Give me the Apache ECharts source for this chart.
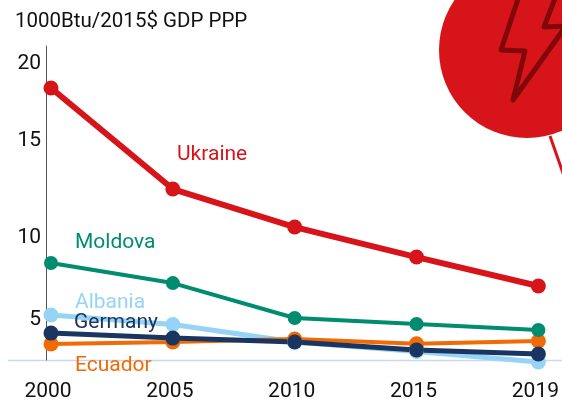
<!DOCTYPE html>
<html><head><meta charset="utf-8">
<style>html,body{margin:0;padding:0;background:#fff}#c{width:562px;height:404px}</style>
<script src="https://cdn.jsdelivr.net/npm/echarts@6/dist/echarts.min.js"></script>
</head><body><div id="c"></div>
<script>
const years = ['2000','2005','2010','2015','2019'];
const ukraine = [18.43,12.53,10.31,8.56,6.87];
const moldova = [8.21,7.04,5.0,4.65,4.3];
const albania = [5.18,4.62,3.6,3.05,2.43];
const germany = [4.12,3.83,3.6,3.13,2.9];
const ecuador = [3.48,3.6,3.77,3.5,3.66];
const tickValues = [4.88,9.68,15.33,19.83];
const tickLabels = ['5','10','15','20'];
const FONT = 'Roboto';
const chart = echarts.init(document.getElementById('c'),null,{renderer:'canvas'});
function line(name,data,color,width,size){
  return {name,type:'line',data,clip:false,symbol:'circle',symbolSize:size,showSymbol:true,
    lineStyle:{color,width},itemStyle:{color},emphasis:{disabled:true},animation:false};
}
function txt(text,x,y,fill,size,extra){
  return Object.assign({type:'text',x,y,z:20,style:{text,fill,font:`${size||20}px ${FONT}`,textVerticalAlign:'middle'}},extra||{});
}
chart.setOption({
  animation:false,
  backgroundColor:'#fff',
  grid:{left:51,right:22,top:46,bottom:44},
  xAxis:{type:'category',boundaryGap:false,data:years,
    axisLine:{show:false},axisTick:{show:false},splitLine:{show:false},
    axisLabel:{color:'#111',fontFamily:FONT,fontSize:21,margin:21,padding:[0,6,0,0],interval:0}},
  yAxis:{type:'value',min:2.55,max:20.88,offset:5,
    axisLine:{show:true,lineStyle:{color:'#555',width:1}},axisTick:{show:false},splitLine:{show:false},
    axisLabel:{color:'#111',fontFamily:FONT,fontSize:21,margin:5,
      customValues:tickValues,
      formatter:v=>tickLabels[tickValues.indexOf(v)]}},
  series:[
    line('Albania',albania,'#96d4f5',5,15),
    line('Ecuador',ecuador,'#f06a05',4,15),
    line('Germany',germany,'#1a3560',5,15),
    line('Moldova',moldova,'#008c6e',4,14),
    line('Ukraine',ukraine,'#d7141a',6,15)
  ],
  graphic:[
    {type:'line',z:0,shape:{x1:8,y1:360.5,x2:562,y2:360.5},style:{stroke:'#c5d9ef',lineWidth:1.5}},
    {type:'circle',z:30,shape:{cx:527,cy:50,r:88},style:{fill:'#d7141a'}},
    {type:'polyline',z:31,shape:{points:[[519,-4],[501,50],[525,51],[513,100],[566,26],[544,27],[556,-4]]},
      style:{fill:'none',stroke:'#800808',lineWidth:5,lineJoin:'round',lineCap:'round'}},
    {type:'line',z:29,shape:{x1:550,y1:136,x2:564,y2:176},style:{stroke:'#d7141a',lineWidth:3}},
    txt('1000Btu/2015$ GDP PPP',15,22,'#111',20.5),
    txt('Ukraine',177,155,'#d7141a',21),
    txt('Moldova',75,243,'#008c6e',21),
    txt('Albania',75,303,'#96d4f5',21),
    txt('Germany',74,323,'#1a3560',21),
    txt('Ecuador',75,366,'#f06a05',21)
  ]
});
</script></body></html>
